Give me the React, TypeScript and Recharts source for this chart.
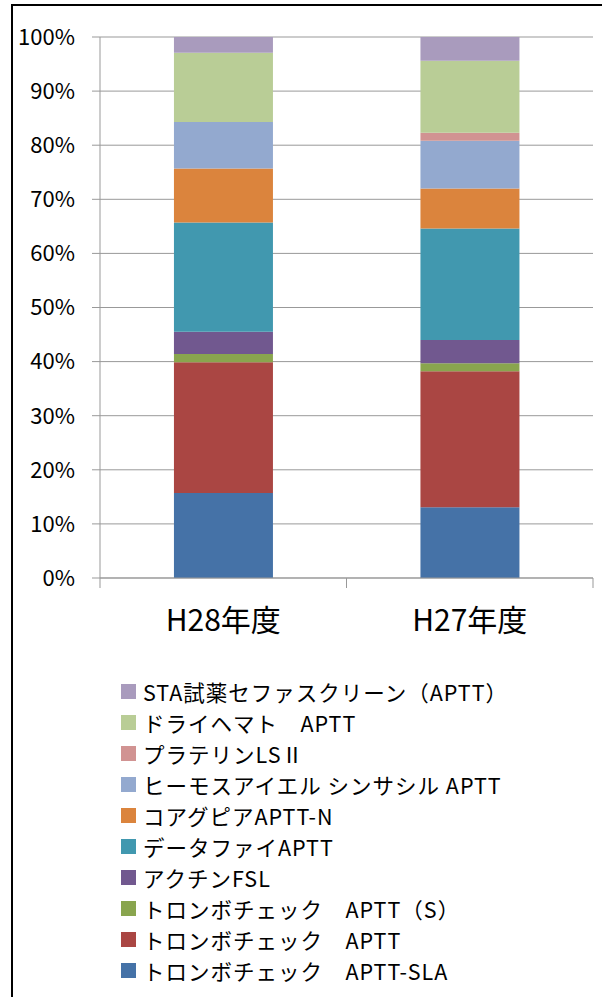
import React from 'react';
import { BarChart, Bar, XAxis, YAxis, CartesianGrid, Legend } from 'recharts';

const categories = ['H28年度', 'H27年度'];

const seriesNames = [
  'トロンボチェック　APTT-SLA',
  'トロンボチェック　APTT',
  'トロンボチェック　APTT（S）',
  'アクチンFSL',
  'データファイAPTT',
  'コアグピアAPTT-N',
  'ヒーモスアイエル シンサシル APTT',
  'プラテリンLSⅡ',
  'ドライヘマト　APTT',
  'STA試薬セファスクリーン（APTT）',
];

const seriesColors = [
  '#4572A7', '#AA4643', '#89A54E', '#71588F', '#4198AF',
  '#DB843D', '#93A9CF', '#D19392', '#B9CD96', '#A99BBD',
];

// values in % : [H28, H27]
const sla = [15.7, 13.1];
const aptt = [24.2, 25.1];
const apttS = [1.5, 1.5];
const fsl = [4.1, 4.3];
const dataFi = [20.2, 20.6];
const coagpia = [10.0, 7.4];
const hemosil = [8.6, 8.8];
const platelin = [0.0, 1.5];
const dryHemato = [12.8, 13.3];
const sta = [2.9, 4.4];

const seriesValues = [sla, aptt, apttS, fsl, dataFi, coagpia, hemosil, platelin, dryHemato, sta];

const yTicks = [0, 10, 20, 30, 40, 50, 60, 70, 80, 90, 100];

const data = categories.map((c, i) => {
  const row: Record<string, any> = { name: c };
  seriesValues.forEach((vals, k) => {
    row['s' + k] = vals[i];
  });
  return row;
});

const FONT = '"Noto Sans CJK JP", "Noto Sans", sans-serif';
const AXIS = '#999999';
const CAT_MARGIN = 32;

const CatTick = (props: any) => {
  const { x, y, payload, index, visibleTicksCount, width } = props;
  const half = payload && typeof payload.offset === 'number' && payload.offset > 0
    ? payload.offset
    : width / visibleTicksCount / 2;
  const axisY = y - CAT_MARGIN;
  return (
    <g>
      {index === 0 && (
        <line x1={x - half} y1={axisY} x2={x - half} y2={axisY + 10} stroke={AXIS} strokeWidth={1} />
      )}
      <line x1={x + half} y1={axisY} x2={x + half} y2={axisY + 10} stroke={AXIS} strokeWidth={1} />
      <text x={x} y={y} dy="0.71em" textAnchor="middle" fontSize={30} fill="#000" fontFamily={FONT}>
        {payload.value}
      </text>
    </g>
  );
};

const LegendContent = () => {
  const order = seriesNames.map((n, i) => ({ name: n, color: seriesColors[i] })).reverse();
  return (
    <ul style={{ margin: 0, padding: 0, listStyle: 'none', fontFamily: FONT, fontSize: 21.5, letterSpacing: 1, color: '#000' }}>
      {order.map((it) => (
        <li key={it.name} style={{ display: 'flex', alignItems: 'center', height: 31, whiteSpace: 'nowrap' }}>
          <span style={{ display: 'inline-block', width: 15, height: 15, background: it.color, marginRight: 7, flex: 'none' }} />
          <span>{it.name}</span>
        </li>
      ))}
    </ul>
  );
};

export default function App() {
  return (
    <div style={{ position: 'absolute', left: 0, top: 0, width: 602, height: 997, overflow: 'hidden', background: '#fff' }}>
      <div style={{ position: 'absolute', left: 11, top: 4, width: 640, height: 1040, border: '2px solid #000' }} />
      <div style={{ position: 'absolute', left: 0, top: 0 }}>
        <BarChart
          width={602}
          height={997}
          data={data}
          margin={{ top: 37, right: 9, left: 0, bottom: 359 }}
          barCategoryGap="30%"
        >
          <CartesianGrid xAxisId="cat" vertical={false} stroke={AXIS} strokeWidth={1} />
          <XAxis
            xAxisId="cat"
            dataKey="name"
            height={60}
            axisLine={{ stroke: AXIS }}
            tickLine={false}
            tickSize={0}
            tickMargin={CAT_MARGIN}
            tick={<CatTick />}
            interval={0}
          />
          <YAxis
            width={100}
            domain={[0, 100]}
            ticks={yTicks}
            allowDataOverflow
            tickFormatter={(v: number) => `${v}%`}
            axisLine={{ stroke: AXIS }}
            tickLine={{ stroke: AXIS }}
            tickSize={8}
            tickMargin={17}
            tick={{ fontSize: 22, fill: '#000', fontFamily: FONT }}
          />
          <Legend
            layout="horizontal"
            verticalAlign="middle"
            align="center"
            content={<LegendContent />}
            wrapperStyle={{ position: 'absolute', left: 121, top: 676, width: 470, height: 320 }}
          />
          {seriesNames.map((n, k) => (
            <Bar
              key={n}
              xAxisId="cat"
              dataKey={'s' + k}
              name={n}
              stackId="a"
              fill={seriesColors[k]}
              isAnimationActive={false}
            />
          ))}
        </BarChart>
      </div>
    </div>
  );
}
